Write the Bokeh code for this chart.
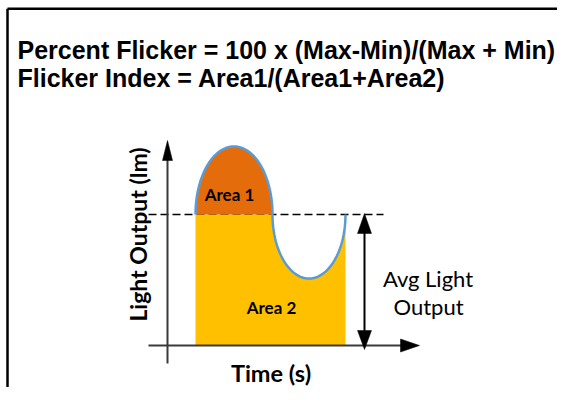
import numpy as np
from bokeh.plotting import figure
from bokeh.models import Range1d
from bokeh.core.properties import value
from bokeh.embed import file_html
from bokeh.resources import INLINE

# ---- diagram data (picture-pixel coordinates; y grows downward) ----
title_lines = ["Percent Flicker = 100 x (Max-Min)/(Max + Min)",
               "Flicker Index = Area1/(Area1+Area2)"]
title_y = [49, 77]

# waveform key times: start, crossing, end
t_start, t_cross, t_end = 195, 272, 345
# light levels: peak, average, trough, zero (axis)
lvl_max, lvl_avg, lvl_min, lvl_zero = 146, 214, 278, 345

area_labels = ["Area 1", "Area 2"]
area_x = [229, 271]
area_y = [194, 307]

x_label = "Time (s)"
y_label = "Light Output (lm)"
avg_label = ["Avg Light", "Output"]

# ---- figure ----
W, H = 557, 387
p = figure(width=W, height=H, x_range=Range1d(0, W), y_range=Range1d(H, 0),
           output_backend="svg", toolbar_location=None, min_border=0,
           background_fill_color="white", border_fill_color="white")
p.axis.visible = False
p.grid.visible = False
p.outline_line_color = None

# frame lines (top and left)
p.line([7, W], [8.2, 8.2], line_color="black", line_width=2.5)
p.line([7, 7], [8.2, H], line_color="black", line_width=2.5)

# titles
for txt, yb in zip(title_lines, title_y):
    p.text(x=[17], y=[yb], text=[txt], text_font=value("Liberation Sans"),
           text_font_style="bold", text_font_size="25px", text_color="black",
           text_align="left", text_baseline="alphabetic")

# waveform shape: upper half-ellipse then lower half-ellipse
cx1, rx1, ry1 = (t_start + t_cross) / 2, (t_cross - t_start) / 2, lvl_avg - lvl_max
cx2, rx2, ry2 = (t_cross + t_end) / 2, (t_end - t_cross) / 2, lvl_min - lvl_avg
th1 = np.linspace(np.pi, 0, 90)
ux = cx1 + rx1 * np.cos(th1)
uy = lvl_avg - ry1 * np.sin(th1)
th2 = np.linspace(np.pi, 2 * np.pi, 90)
lx = cx2 + rx2 * np.cos(th2)
ly = lvl_avg - ry2 * np.sin(th2)

# dashed average line (behind fills)
p.line([148, 383], [lvl_avg, lvl_avg], line_color="black", line_width=1.5, line_dash="8 4")

# area 2 (yellow)
yx = [t_start, t_start, t_cross] + list(lx) + [t_end, t_end]
yy = [lvl_zero, lvl_avg, lvl_avg] + list(ly) + [lvl_avg, lvl_zero]
p.patch(yx, yy, fill_color="#FFC000", line_color=None)
# area 1 (orange)
p.patch(list(ux), list(uy), fill_color="#E46C0A", line_color=None)

# waveform outline
p.line(list(ux) + list(lx), list(uy) + list(ly), line_color="#5B9BD5", line_width=2.5)

# axes
ax_col = "#3A3A3A"
p.line([167, 167], [155, 363], line_color=ax_col, line_width=2)
p.patch([162, 172, 167], [160, 160, 140], fill_color="black", line_color="black", line_width=0.5)
p.line([148, 402], [lvl_zero, lvl_zero], line_color=ax_col, line_width=2)
p.patch([400, 400, 419], [338.5, 351.5, lvl_zero], fill_color="black", line_color="black", line_width=0.5)

# avg double arrow
p.line([364, 364], [228, 334], line_color="black", line_width=2)
p.patch([357, 371, 364], [233, 233, 213], fill_color="black", line_color="black", line_width=0.5)
p.patch([357, 371, 364], [330, 330, 349], fill_color="black", line_color="black", line_width=0.5)

# labels
p.text(x=area_x, y=area_y, text=area_labels, text_font=value("Lato"),
       text_font_style="bold", text_font_size="17px", text_color="black",
       text_align="center", text_baseline="alphabetic")
p.text(x=[270.5], y=[372], text=[x_label], text_font=value("Lato"),
       text_font_style="bold", text_font_size="23.5px", text_color="black",
       text_align="center", text_baseline="alphabetic")
p.text(x=[137], y=[234], text=[y_label], angle=np.pi / 2, text_font=value("Lato"),
       text_font_style="bold", text_font_size="23px", text_color="black",
       text_align="center", text_baseline="alphabetic")
p.text(x=[427.5, 428], y=[277.5, 305.5], text=avg_label, text_font=value("Lato"),
       text_font_size="22px", text_color="black",
       text_align="center", text_baseline="alphabetic")

open("out.html", "w").write(file_html(p, INLINE))
